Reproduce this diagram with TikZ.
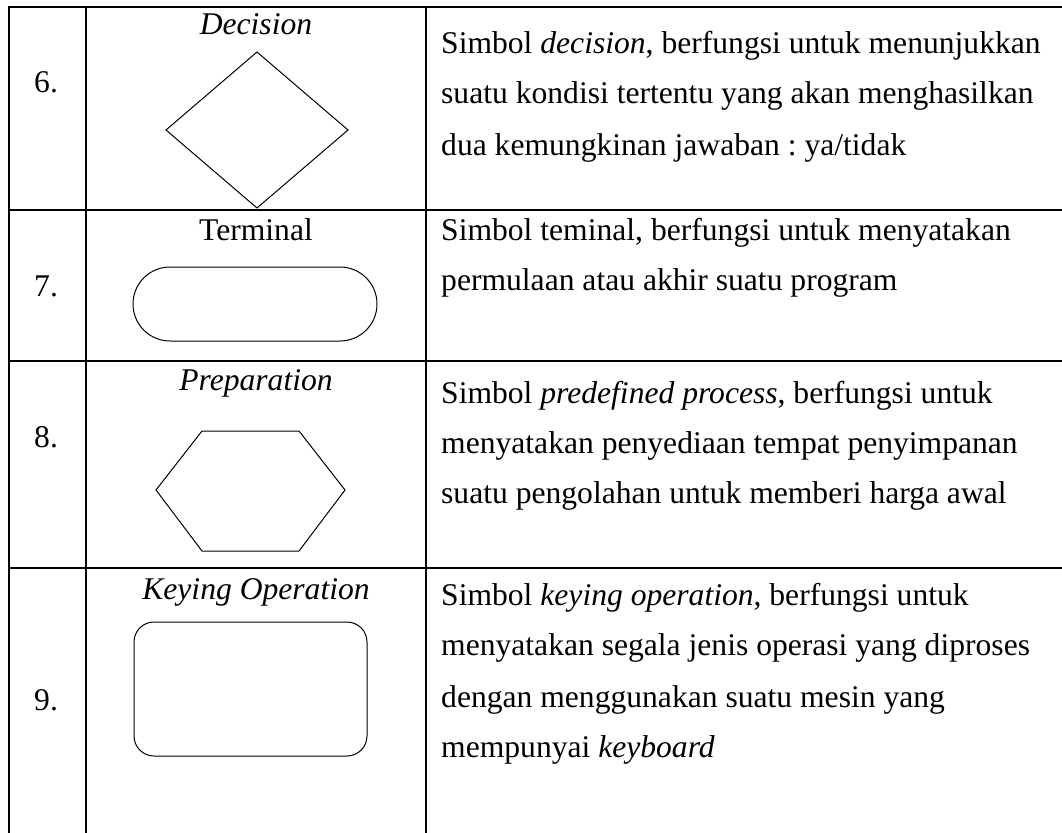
\documentclass[tikz,border=0pt]{standalone}
\usepackage{fontspec}
\setmainfont{Liberation Serif}
\frenchspacing
\begin{document}
\begin{tikzpicture}[x=1pt,y=-1pt,
  rule/.style={line width=2pt},
  shp/.style={line width=1pt},
  txt/.style={inner sep=0pt,anchor=base west,font=\fontsize{31.6}{36}\selectfont},
  lbl/.style={inner sep=0pt,anchor=base,font=\fontsize{31.6}{36}\selectfont}]
\useasboundingbox (0,0) rectangle (1062,832);
% table rules
\draw[rule] (9,7) -- (9,840);
\draw[rule] (86,7) -- (86,840);
\draw[rule] (426,7) -- (426,840);
\draw[rule] (8,7) -- (1070,7);
\draw[rule] (8,210) -- (1070,210);
\draw[rule] (8,361) -- (1070,361);
\draw[rule] (8,568) -- (1070,568);
% numbers
\node[txt] (n6) at (34,93) {6.};
\node[txt] (n7) at (34,296) {7.};
\node[txt] (n8) at (34,447) {8.};
\node[txt] (n9) at (34,710) {9.};
% labels
\node[lbl] (l6) at (256,35) {\itshape Decision};
\node[lbl] (l7) at (256,240) {Terminal};
\node[lbl] (l8) at (256,390) {\itshape Preparation};
\node[lbl] (l9) at (256,599) {\itshape Keying Operation};
% shapes
\draw[shp,line join=miter] (257,52) -- (348,130) -- (257,208) -- (166,130) -- cycle;
\draw[shp] (170,267) -- (340,267) arc[start angle=-90,end angle=90,radius=37] -- (170,341) arc[start angle=90,end angle=270,radius=37] -- cycle;
\draw[shp] (156,490) -- (202,431) -- (299,431) -- (345,490) -- (299,551) -- (202,551) -- cycle;
\draw[shp,rounded corners=20pt] (134,622) rectangle (367,756);
% descriptions
\node[txt] (d6a) at (441,54) {Simbol \textit{decision}, berfungsi untuk menunjukkan};
\node[txt] (d6b) at (441,104) {suatu kondisi tertentu yang akan menghasilkan};
\node[txt] (d6c) at (441,155) {dua kemungkinan jawaban : ya/tidak};
\node[txt] (d7a) at (441,240) {Simbol teminal, berfungsi untuk menyatakan};
\node[txt] (d7b) at (441,290) {permulaan atau akhir suatu program};
\node[txt] (d8a) at (441,403) {Simbol \textit{predefined process}, berfungsi untuk};
\node[txt] (d8b) at (441,453) {menyatakan penyediaan tempat penyimpanan};
\node[txt] (d8c) at (441,503) {suatu pengolahan untuk memberi harga awal};
\node[txt] (d9a) at (441,605) {Simbol \textit{keying operation}, berfungsi untuk};
\node[txt] (d9b) at (441,655) {menyatakan segala jenis operasi yang diproses};
\node[txt] (d9c) at (441,707) {dengan menggunakan suatu mesin yang};
\node[txt] (d9d) at (441,757) {mempunyai \textit{keyboard}};
\end{tikzpicture}
\end{document}
